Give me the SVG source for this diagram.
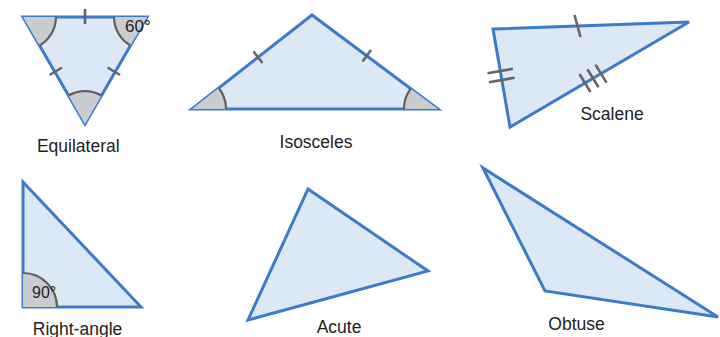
<svg xmlns="http://www.w3.org/2000/svg" width="720" height="337" viewBox="0 0 720 337">
<style>
.tri{fill:#dce8f5;stroke:#3b7cc9;stroke-width:3;stroke-linejoin:miter}
.ang{fill:#c9cdd2;stroke:none}
.arc{fill:none;stroke:#5f5f5f;stroke-width:2.2}
.tick{stroke:#666;stroke-width:2.6;stroke-linecap:butt;fill:none}
.lbl{font-family:"Liberation Sans",Arial,sans-serif;font-size:17.5px;fill:#222;text-anchor:middle}
.deg{font-family:"Liberation Sans",Arial,sans-serif;font-size:17px;fill:#222}
</style>
<rect width="720" height="337" fill="#fff"/>
<g id="equilateral">
<polygon class="tri" points="23,17 147,17 85,124"/>
<path class="ang" d="M23,17 L56,17 A33,33 0 0 1 39.5,45.5 Z"/>
<path class="arc" d="M56,17 A33,33 0 0 1 39.5,45.5"/>
<path class="ang" d="M147,17 L114,17 A33,33 0 0 0 130.5,45.5 Z"/>
<path class="arc" d="M114,17 A33,33 0 0 0 130.5,45.5"/>
<path class="ang" d="M85,124 L68.5,95.5 A33,33 0 0 1 101.5,95.5 Z"/>
<path class="arc" d="M68.5,95.5 A33,33 0 0 1 101.5,95.5"/>
<line class="tick" x1="85" y1="9" x2="85" y2="24"/>
<line class="tick" x1="49.5" y1="75" x2="62" y2="67.5"/>
<line class="tick" x1="107.5" y1="67.5" x2="120" y2="75"/>
<text class="deg" x="125" y="32">60°</text>
<text class="lbl" x="78.3" y="151.5">Equilateral</text>
</g>
<g id="isosceles">
<polygon class="tri" points="192,109 312,15 438,109"/>
<path class="ang" d="M192,109 L226,109 A34,34 0 0 0 218.8,88 Z"/>
<path class="arc" d="M226,109 A34,34 0 0 0 218.8,88"/>
<path class="ang" d="M438,109 L404,109 A34,34 0 0 1 410.7,88.7 Z"/>
<path class="arc" d="M404,109 A34,34 0 0 1 410.7,88.7"/>
<line class="tick" x1="253.5" y1="51.5" x2="262.5" y2="63"/>
<line class="tick" x1="371" y1="50" x2="362.5" y2="61.5"/>
<text class="lbl" x="316" y="148">Isosceles</text>
</g>
<g id="scalene">
<polygon class="tri" points="493,29 689,22 510,127"/>
<line class="tick" x1="574.5" y1="15" x2="580.5" y2="37"/>
<line class="tick" x1="487.5" y1="73.2" x2="513.1" y2="68.8"/>
<line class="tick" x1="489" y1="82.2" x2="514.6" y2="77.8"/>
<line class="tick" x1="579.5" y1="74" x2="590.5" y2="92"/>
<line class="tick" x1="587.5" y1="69.3" x2="598.5" y2="87.3"/>
<line class="tick" x1="595.5" y1="64.6" x2="606.5" y2="82.6"/>
<text class="lbl" x="612" y="120">Scalene</text>
</g>
<g id="right-angle">
<polygon class="tri" points="23,182 23,307 141,307"/>
<path class="ang" d="M23,307 L23,273 A34,34 0 0 1 57,307 Z"/>
<path class="arc" d="M23,273 A34,34 0 0 1 57,307"/>
<text class="deg" x="32" y="298" style="font-size:16px">90°</text>
<text class="lbl" x="77.5" y="335">Right-angle</text>
</g>
<g id="acute">
<polygon class="tri" points="308,189 428,271 248,320"/>
<text class="lbl" x="339" y="333">Acute</text>
</g>
<g id="obtuse">
<polygon class="tri" points="483,168 545,291 718,317"/>
<text class="lbl" x="576.5" y="330">Obtuse</text>
</g>
<g id="connectors"/>
</svg>
